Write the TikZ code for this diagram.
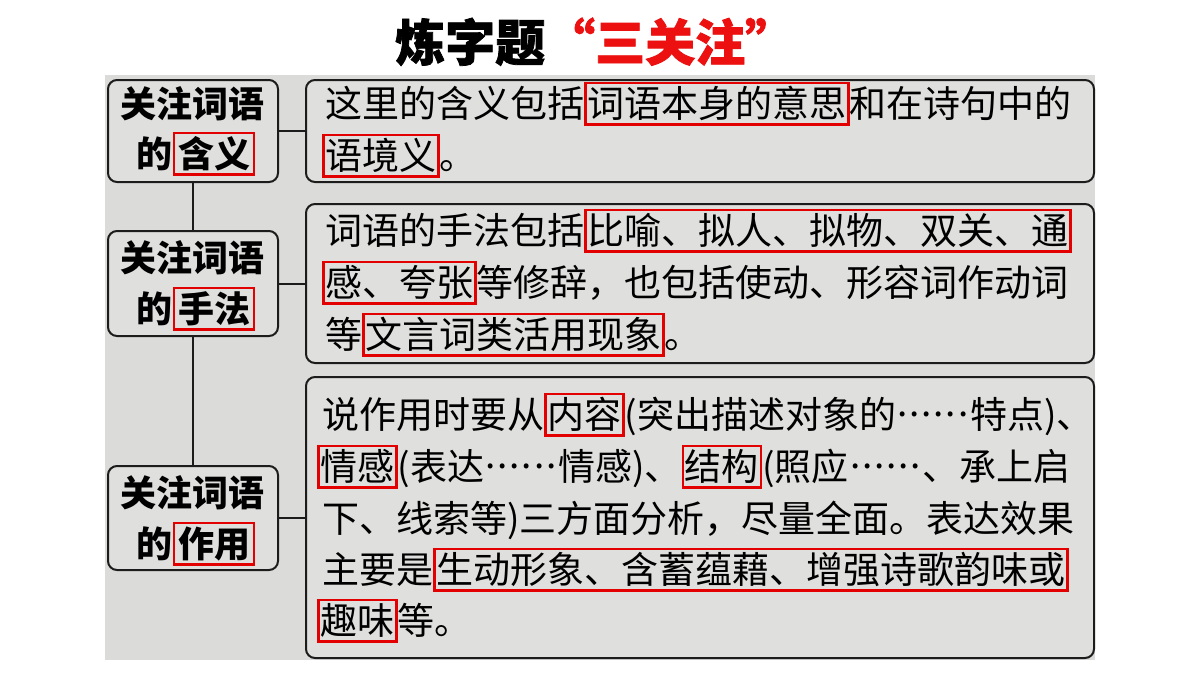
\documentclass[tikz,border=0pt]{standalone}
\usepackage{fontspec}
\setmainfont{Noto Sans CJK SC}
\newfontfamily\titlefont{Noto Sans CJK SC}[BoldFeatures={FakeBold=1.5}]
\definecolor{panel}{RGB}{219,219,217}
\definecolor{boxfill}{RGB}{223,223,221}
\definecolor{edge}{RGB}{28,28,28}
\definecolor{hlred}{RGB}{226,0,0}
\definecolor{titlered}{RGB}{236,16,16}
\tikzset{
  lbox/.style={draw=edge, line width=2pt, rounded corners=9pt, fill=boxfill,
    minimum width=170pt, inner sep=0pt, anchor=north west},
  rbox/.style={draw=edge, line width=2pt, rounded corners=9pt, fill=boxfill,
    minimum width=788pt, inner sep=0pt, anchor=north west},
  conn/.style={draw=edge, line width=2pt},
  ltext/.style={font=\fontsize{36}{36}\selectfont\bfseries, anchor=base, inner sep=0pt},
  rtext/.style={font=\fontsize{37}{37}\selectfont, anchor=base west, inner sep=0pt},
  hlbox/.style={draw=hlred, line width=2.4pt, inner xsep=2pt, inner ysep=3pt,
    text height=31pt, text depth=4.5pt, outer sep=0pt, anchor=base},
  hllbox/.style={hlbox, inner xsep=4pt},
}
\newcommand\hl[2]{\tikz[baseline=(#1.base)]\node[hlbox](#1){#2};}
\newcommand\hll[2]{\tikz[baseline=(#1.base)]\node[hllbox](#1){#2};}
\newcommand\zdots{\raisebox{0.3em}{\hbox to 2em{\hss.\hss.\hss.\hss.\hss.\hss.\hss}}}
\begin{document}
\begin{tikzpicture}[x=1pt,y=-1pt]
\useasboundingbox (0,0) rectangle (1200,675);
\fill[white] (0,0) rectangle (1200,675);
\fill[panel] (105,75) rectangle (1095,660);
% title
\node[anchor=base west, inner sep=0pt, font=\fontsize{50}{50}\titlefont\bfseries] (title) at (395,61) {炼字题\textcolor{titlered}{“三关注”}};
% boxes
\node[lbox, minimum height=102pt] (l1) at (107,79) {};
\node[lbox, minimum height=105pt] (l2) at (107,230) {};
\node[lbox, minimum height=104pt] (l3) at (107,465) {};
\node[rbox, minimum height=102pt] (r1) at (305,79) {};
\node[rbox, minimum height=159pt] (r2) at (305,203) {};
\node[rbox, minimum height=281pt] (r3) at (305,376) {};
% connectors
\draw[conn] (l1.south) -- (l2.north);
\draw[conn] (l2.south) -- (l3.north);
\draw[conn] (l1.east) -- (l1.east -| r1.west);
\draw[conn] (l2.east) -- (l2.east -| r2.west);
\draw[conn] (l3.east) -- (l3.east -| r3.west);
% labels
\node[ltext] (k11) at (192,117) {关注词语};
\node[ltext] (k12) at (196,167) {的\hll{m1}{含义}};
\node[ltext] (k21) at (192,271) {关注词语};
\node[ltext] (k22) at (196,322) {的\hll{m2}{手法}};
\node[ltext] (k31) at (192,506) {关注词语};
\node[ltext] (k32) at (196,557) {的\hll{m3}{作用}};
% box 1
\node[rtext] (t11) at (325,117) {这里的含义包括\hl{h1}{词语本身的意思}和在诗句中的};
\node[rtext] (t12) at (322,169) {\hl{h2}{语境义}。};
% box 2
\node[rtext] (t21) at (325,244) {词语的手法包括\hl{h3}{比喻、拟人、拟物、双关、通}};
\node[rtext] (t22) at (322,296) {\hl{h4}{感、夸张}等修辞，也包括使动、形容词作动词};
\node[rtext] (t23) at (325,348) {等\hl{h5}{文言词类活用现象}。};
% box 3
\node[rtext] (t31) at (322,428) {说作用时要从\hl{h6}{内容}(突出描述对象的\zdots 特点)、};
\node[rtext] (t32) at (317,480) {\hl{h7}{情感}(表达\zdots 情感)、\hl{h8}{结构}(照应\zdots 、承上启};
\node[rtext] (t33) at (322,532) {下、线索等)三方面分析，尽量全面。表达效果};
\node[rtext] (t34) at (322,583) {主要是\hl{h9}{生动形象、含蓄蕴藉、增强诗歌韵味或}};
\node[rtext] (t35) at (317,634) {\hl{h10}{趣味}等。};
\end{tikzpicture}
\end{document}
